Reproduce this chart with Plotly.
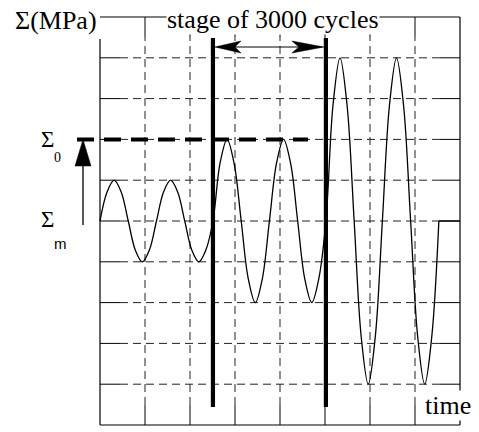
import plotly.graph_objects as go

# ---- data (time in grid units, stress in grid units) ----
time = [0.000, 0.157, 0.314, 0.471, 0.628, 0.784, 0.941, 1.098, 1.255,
        1.412, 1.569, 1.726, 1.883, 2.039, 2.196, 2.353, 2.510,
        2.667, 2.824, 2.980, 3.138, 3.294, 3.451, 3.608, 3.765,
        3.922, 4.079, 4.236, 4.393, 4.549, 4.706, 4.863, 5.020,
        5.177, 5.334, 5.491, 5.648, 5.804, 5.961, 6.118, 6.275,
        6.432, 6.589, 6.746, 6.903, 7.059, 7.216, 7.373, 7.530]
stress = [5.00, 5.71, 6.00, 5.71, 5.00, 4.29, 4.00, 4.29, 5.00,
          5.71, 6.00, 5.71, 5.00, 4.29, 4.00, 4.29, 5.00,
          6.41, 7.00, 6.41, 5.00, 3.59, 3.00, 3.59, 5.00,
          6.41, 7.00, 6.41, 5.00, 3.59, 3.00, 3.59, 5.00,
          7.83, 9.00, 7.83, 5.00, 2.17, 1.00, 2.17, 5.00,
          7.83, 9.00, 7.83, 5.00, 2.17, 1.00, 2.17, 5.00]
tail_time = [7.53, 8.00]
tail_stress = [5.00, 5.00]

x_grid = [1, 2, 3, 4, 5, 6, 7]
y_grid = [1, 2, 3, 4, 5, 6, 7, 8, 9]
x_max = 8
y_max = 10
sigma_0 = 7.0
sigma_m = 5.0
stage_bounds = [2.51, 5.02]

title_y = "Σ(MPa)"
title_stage = "stage of 3000 cycles"
title_x = "time"

# ---- pixel <-> data helpers for decorations ----
W, H = 479, 432
PX_X0, PX_PER_X = 100.0, 45.0
PX_Y0, PX_PER_Y = 425.0, 40.8


def X(px):
    return (px - PX_X0) / PX_PER_X


def Y(py):
    return (PX_Y0 - py) / PX_PER_Y


TX = 20 / PX_PER_X
TY = 20 / PX_PER_Y

shapes = []


def seg(x0, y0, x1, y1, width=1.0, dash="solid", color="black", layer="above"):
    shapes.append(dict(type="line", xref="x", yref="y", x0=x0, y0=y0, x1=x1, y1=y1,
                       line=dict(color=color, width=width, dash=dash), layer=layer))


def poly(points, color="black"):
    p = "M " + " L ".join(f"{a},{b}" for a, b in points) + " Z"
    shapes.append(dict(type="path", xref="x", yref="y", path=p,
                       fillcolor=color, line=dict(color=color, width=0.5), layer="above"))


GRID_DASH = "8px,5px"
GRID_COL = "#222"
for gx in x_grid:
    seg(gx, TY, gx, y_max - TY, 1, GRID_DASH, GRID_COL, "below")
    seg(gx, 0, gx, TY, 1, "solid", "black", "below")
    seg(gx, y_max - TY, gx, y_max, 1, "solid", "black", "below")
for gy in y_grid:
    seg(TX, gy, x_max - TX, gy, 1, GRID_DASH, GRID_COL, "below")
    seg(0, gy, TX, gy, 1, "solid", "black", "below")
    seg(x_max - TX, gy, x_max, gy, 1, "solid", "black", "below")

# frame
seg(0, 0, x_max, 0, 1.2)
seg(x_max, 0, x_max, y_max, 1.2)
seg(0, y_max, x_max, y_max, 1.2)
seg(0, 0, 0, Y(39), 1.2)

# Sigma_0 thick dashed level
seg(X(77), sigma_0, X(308), sigma_0, 4, "17px,10px")

# vertical arrow from Sigma_m to Sigma_0
seg(X(83), Y(225), X(83), Y(163), 1.3)
poly([(X(83), sigma_0), (X(75), Y(166)), (X(91), Y(166))])

# stage bounds (thick lines)
for sb in stage_bounds:
    seg(sb, Y(407), sb, Y(38), 4.2)

# double arrow between stage bounds
ya = Y(47)
off4 = 4 / PX_PER_X
off2 = 2 / PX_PER_X
seg(stage_bounds[0] + off4, ya, stage_bounds[1] - off4, ya, 1)
L0 = stage_bounds[0] + off2
poly([(L0, ya), (L0 + 26 / PX_PER_X, ya + 6 / PX_PER_Y),
      (L0 + 20 / PX_PER_X, ya), (L0 + 26 / PX_PER_X, ya - 6 / PX_PER_Y)])
R0 = stage_bounds[1] - off2
poly([(R0, ya), (R0 - 32 / PX_PER_X, ya + 6 / PX_PER_Y),
      (R0 - 25 / PX_PER_X, ya), (R0 - 32 / PX_PER_X, ya - 6 / PX_PER_Y)])

fig = go.Figure()
fig.add_trace(go.Scatter(x=time, y=stress, mode="lines",
                         line=dict(color="black", width=1.3, shape="spline", smoothing=1.0),
                         hoverinfo="skip", showlegend=False))
fig.add_trace(go.Scatter(x=tail_time, y=tail_stress, mode="lines",
                         line=dict(color="black", width=1.3),
                         hoverinfo="skip", showlegend=False))

SERIF = "Liberation Serif"
SANS = "Liberation Sans"
ann = []


def txt(text, x, y, size, family=SERIF, bg=None):
    d = dict(text=text, x=x, y=y, xref="x", yref="y", showarrow=False,
             xanchor="center", yanchor="middle",
             font=dict(family=family, size=size, color="black"), borderpad=0)
    if bg:
        d["bgcolor"] = bg
    ann.append(d)


txt(title_y, X(55.5), Y(20), 26)
txt(title_stage, X(272.5), Y(19), 26, bg="white")
txt(title_x, X(447.5), Y(405), 26, bg="white")
txt("Σ", X(47.5), Y(139), 23)
txt("0", X(57), Y(157), 14)
txt("Σ", X(47.5), Y(219), 23)
txt("m", X(60), Y(243), 15, family=SANS)

fig.update_layout(
    width=W, height=H,
    margin=dict(l=0, r=0, t=0, b=0),
    paper_bgcolor="white", plot_bgcolor="white",
    xaxis=dict(range=[X(0), X(W)], visible=False, fixedrange=True),
    yaxis=dict(range=[Y(H), Y(0)], visible=False, fixedrange=True),
    shapes=shapes, annotations=ann, showlegend=False,
)

fig.write_html("out.html", config={"displayModeBar": False},
               post_script="document.body.style.margin='0px';document.body.style.overflow='hidden';")
